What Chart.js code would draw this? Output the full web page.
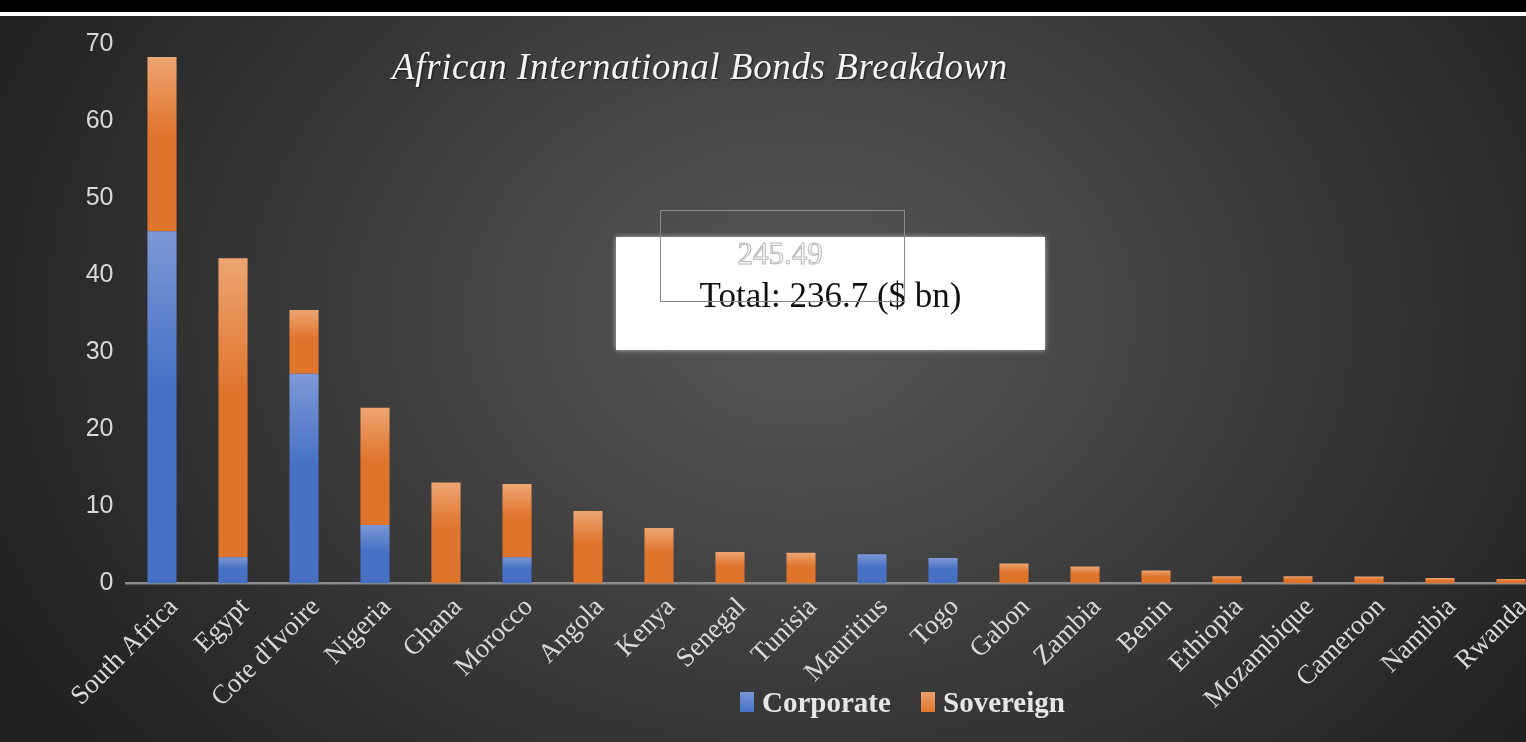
<!DOCTYPE html>
<html>
<head>
<meta charset="utf-8">
<script src="https://cdn.jsdelivr.net/npm/chart.js@4.4.1/dist/chart.umd.min.js"></script>
<style>
  html, body { margin: 0; padding: 0; width: 1526px; height: 742px; overflow: hidden; background: #000; }
  #topline { position: absolute; left: 0; top: 12px; width: 1526px; height: 4px; background: #fff; }
  #frame {
    position: absolute; left: 0; top: 16px; width: 1560px; height: 726px;
    background: radial-gradient(ellipse 900px 700px at 800px 300px, #585858 0%, #484848 30%, #363636 60%, #262626 90%, #222 100%);
  }
  #chartBox { position: absolute; left: 0; top: 0; width: 1560px; height: 726px; }
  .title {
    position: absolute; left: 380px; top: 45px; width: 640px; text-align: center;
    font-family: "Liberation Serif", serif; font-style: italic; font-size: 37px; letter-spacing: 0.6px; color: #f4f4f4;
    text-shadow: 1px 1px 2px rgba(0,0,0,0.6);
  }
  .totalBox {
    position: absolute; left: 616px; top: 237px; width: 429px; height: 113px; background: #fff;
    box-shadow: 0 0 5px rgba(255,255,255,0.6);
  }
  .totalText {
    position: absolute; left: 616px; top: 276px; width: 429px; text-align: center;
    font-family: "Liberation Serif", serif; font-size: 35px; color: #111;
  }
  .ghostBox { position: absolute; left: 660px; top: 210px; width: 243px; height: 90px; border: 1px solid #8a8a8a; }
  .ghostText {
    position: absolute; left: 700px; top: 236px; width: 160px; text-align: center;
    font-family: "Liberation Serif", serif; font-size: 31px; color: #fbfbfb;
    -webkit-text-stroke: 1px #b8b8b8;
  }
  .legend {
    position: absolute; top: 686px; height: 32px; display: flex; align-items: center;
    font-family: "Liberation Serif", serif; font-weight: bold; font-size: 29px; color: #e6e6e6;
  }
  .legend span.sw { display: inline-block; width: 14px; height: 20px; margin-right: 8px; }
</style>
</head>
<body>
<div id="topline"></div>
<div id="frame">
  <div id="chartBox"><canvas id="bondsChart"></canvas></div>
</div>
<div class="title">African International Bonds Breakdown</div>
<div class="totalBox"></div>
<div class="totalText">Total: 236.7 ($ bn)</div>
<div class="ghostBox"></div>
<div class="ghostText">245.49</div>
<div class="legend" style="left:740px"><span class="sw" style="background:linear-gradient(#7a95d6,#4571c4)"></span>Corporate</div>
<div class="legend" style="left:921px"><span class="sw" style="background:linear-gradient(#eba06c,#e0782f)"></span>Sovereign</div>

<script>
const countries = ["South Africa", "Egypt", "Cote d'Ivoire", "Nigeria", "Ghana", "Morocco", "Angola", "Kenya",
    "Senegal", "Tunisia", "Mauritius", "Togo", "Gabon", "Zambia", "Benin", "Ethiopia", "Mozambique",
    "Cameroon", "Namibia", "Rwanda"];
const corporate = [45.7, 3.4, 27.2, 7.6, 0, 3.4, 0, 0, 0, 0, 3.8, 3.3, 0, 0, 0, 0, 0, 0, 0, 0];
const sovereign = [22.6, 38.8, 8.3, 15.2, 13.1, 9.5, 9.4, 7.2, 4.1, 4.0, 0, 0, 2.6, 2.2, 1.7, 0.95, 0.95, 0.9, 0.7, 0.6];
const yTicks = [0, 10, 20, 30, 40, 50, 60, 70];

// lighter at the top of each bar, like the office gradient fill
function barFill(base, light) {
    return (c) => {
        const chart = c.chart;
        if (!chart.chartArea || c.type !== "data" || !chart.scales.y) return base;
        const y = chart.scales.y;
        const lo = c.datasetIndex === 0 ? 0 : corporate[c.dataIndex];
        const hi = lo + Number(c.raw || 0);
        const top = y.getPixelForValue(hi);
        const bot = y.getPixelForValue(lo);
        if (!(bot > top)) return base;
        const g = chart.ctx.createLinearGradient(0, top, 0, bot);
        g.addColorStop(0, light);
        g.addColorStop(0.45, base);
        g.addColorStop(1, base);
        return g;
    };
}

const ctx = document.getElementById("bondsChart").getContext("2d");
new Chart(ctx, {
    type: "bar",
    data: {
        labels: countries,
        datasets: [{
            label: "Corporate",
            data: corporate,
            backgroundColor: barFill("#4570c4", "#7e98d6"),
            barPercentage: 0.41,
            categoryPercentage: 1
        }, {
            label: "Sovereign",
            data: sovereign,
            backgroundColor: barFill("#df742d", "#eda572"),
            barPercentage: 0.41,
            categoryPercentage: 1
        }]
    },
    options: {
        responsive: true,
        maintainAspectRatio: false,
        animation: false,
        layout: { padding: { top: 23, right: 13.5, left: 0, bottom: 0 } },
        plugins: { legend: { display: false }, tooltip: { enabled: false }, title: { display: false } },
        scales: {
            x: {
                stacked: true,
                grid: { display: false, drawTicks: false },
                border: { display: true, color: "#8c8c8c", width: 2.5 },
                ticks: {
                    color: "#d9d9d9",
                    font: { family: "Liberation Serif", size: 27 },
                    minRotation: 45, maxRotation: 45,
                    padding: 8,
                    labelOffset: 12,
                    autoSkip: false
                },
                afterFit: (s) => { s.height = 158.5; }
            },
            y: {
                stacked: true,
                min: 0, max: 70,
                grid: { display: false, drawTicks: false },
                border: { display: false },
                ticks: {
                    color: "#d9d9d9",
                    font: { family: "Liberation Sans", size: 25 },
                    stepSize: 10,
                    padding: 13,
                    callback: (v) => yTicks.includes(v) ? v : ""
                },
                afterFit: (s) => { s.width = 126.5; }
            }
        }
    }
});
</script>
</body>
</html>
